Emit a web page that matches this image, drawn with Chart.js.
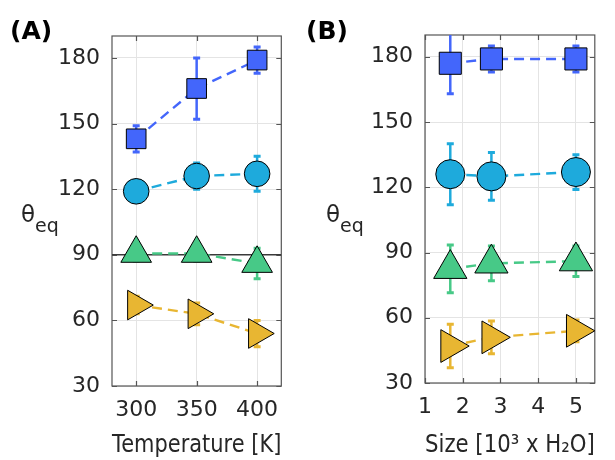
<!DOCTYPE html>
<html>
<head>
<meta charset="utf-8">
<script src="https://cdn.jsdelivr.net/npm/chart.js@4.4.1/dist/chart.umd.min.js"></script>
<style>
    html, body { margin: 0; padding: 0; background: #fff; }
    #wrap { position: relative; width: 615px; height: 460px; overflow: hidden; font-family: "DejaVu Sans", sans-serif; color: #262626; }
    canvas { position: absolute; top: 0; }
    #chartA { left: 0; }
    #chartB { left: 305px; }
    .panel { position: absolute; font-weight: bold; font-size: 25px; line-height: 1; color: #000; }
    .ylab { position: absolute; font-size: 23px; line-height: 1; }
    .ylab span { position: relative; top: 10px; font-size: 19px; }
</style>
</head>
<body>
<div id="wrap">
    <canvas id="chartA" width="300" height="460"></canvas>
    <canvas id="chartB" width="310" height="460"></canvas>
    <div class="panel" style="left:10px; top:18px;">(A)</div>
    <div class="panel" style="left:306px; top:18px;">(B)</div>
    <div class="ylab" style="left:21px; top:203px;">θ<span>eq</span></div>
    <div class="ylab" style="left:326px; top:203px;">θ<span>eq</span></div>
</div>
<script>
// ---- pannello A: temperatura ----
const TEMP_K = [300, 350, 400];
const A_SQUARE = [143, 166, 179];
const A_SQUARE_ERR = [6, 14, 6];
const A_CIRCLE = [119, 126, 127];
const A_CIRCLE_ERR = [5, 6, 8];
const A_TRI_UP = [90.6, 90.6, 86];
const A_TRI_UP_ERR = [3.5, 3.5, 7];
const A_TRI_RIGHT = [67, 63, 54];
const A_TRI_RIGHT_ERR = [4, 5, 6];
const A_REF_LINE = 90;
const A_X_TICKS = [300, 350, 400];

// ---- pannello B: dimensione ----
const SIZE_KH2O = [1.67, 2.76, 5.0];
const B_SQUARE = [177, 179, 179];
const B_SQUARE_ERR = [14, 6, 6];
const B_CIRCLE = [126, 125, 127];
const B_CIRCLE_ERR = [14, 11, 8];
const B_TRI_UP = [82.5, 85, 86];
const B_TRI_UP_ERR = [11, 8, 7];
const B_TRI_RIGHT = [47, 51, 54];
const B_TRI_RIGHT_ERR = [10, 7.5, 5];
const B_X_TICKS = [1, 2, 3, 4, 5];

const Y_TICKS = [30, 60, 90, 120, 150, 180];

const BLUE = '#4366fb';
const CYAN = '#1eaadc';
const GREEN = '#47c987';
const YELLOW = '#e8b632';
const TXT = '#262626';
const GRID = '#e4e4e4';
const FONT = "'DejaVu Sans', sans-serif";

Chart.defaults.font.family = FONT;
Chart.defaults.color = TXT;

// box con tacche verso l'interno (stile MATLAB)
const boxTicks = {
    id: 'boxTicks',
    beforeDatasetsDraw(chart) {
        const { ctx, chartArea: a, scales: { x, y } } = chart;
        const len = 5;
        ctx.save();
        ctx.strokeStyle = '#555';
        ctx.lineWidth = 1.2;
        ctx.strokeRect(a.left, a.top, a.right - a.left, a.bottom - a.top);
        ctx.beginPath();
        x.ticks.forEach(t => {
            const px = Math.round(x.getPixelForValue(t.value)) + 0.5;
            ctx.moveTo(px, a.bottom); ctx.lineTo(px, a.bottom - len);
            ctx.moveTo(px, a.top); ctx.lineTo(px, a.top + len);
        });
        y.ticks.forEach(t => {
            const py = Math.round(y.getPixelForValue(t.value)) + 0.5;
            ctx.moveTo(a.left, py); ctx.lineTo(a.left + len, py);
            ctx.moveTo(a.right, py); ctx.lineTo(a.right - len, py);
        });
        ctx.stroke();
        ctx.restore();
    },
};

// barre d'errore verticali con cappucci
const errorBars = {
    id: 'errorBars',
    beforeDatasetsDraw(chart) {
        const { ctx, chartArea: a, scales: { x, y } } = chart;
        ctx.save();
        ctx.beginPath();
        ctx.rect(a.left, a.top, a.right - a.left, a.bottom - a.top);
        ctx.clip();
        chart.data.datasets.forEach(ds => {
            if (!ds.errors) return;
            ctx.strokeStyle = ds.borderColor;
            ds.data.forEach((p, i) => {
                const px = x.getPixelForValue(p.x);
                const top = y.getPixelForValue(p.y + ds.errors[i]);
                const bot = y.getPixelForValue(p.y - ds.errors[i]);
                ctx.lineWidth = 2.5;
                ctx.beginPath();
                ctx.moveTo(px, top); ctx.lineTo(px, bot);
                ctx.stroke();
                ctx.lineWidth = 3;
                ctx.beginPath();
                ctx.moveTo(px - 3.5, top); ctx.lineTo(px + 3.5, top);
                ctx.moveTo(px - 3.5, bot); ctx.lineTo(px + 3.5, bot);
                ctx.stroke();
            });
        });
        ctx.restore();
    },
};

function series(xs, ys, errs, color, style, radius, rotation) {
    return {
        data: xs.map((x, i) => ({ x, y: ys[i] })),
        errors: errs,
        showLine: true,
        borderColor: color,
        backgroundColor: color,
        borderWidth: 2.4,
        borderDash: [10, 6],
        pointStyle: style,
        pointRadius: radius,
        pointHoverRadius: radius,
        pointRotation: rotation || 0,
        pointBackgroundColor: color,
        pointBorderColor: '#000',
        pointBorderWidth: 1,
        clip: false,
    };
}

function makePanel(canvasId, opt) {
    const ctx = document.getElementById(canvasId);
    return new Chart(ctx, {
        type: 'scatter',
        data: { datasets: opt.datasets },
        options: {
            responsive: false,
            animation: false,
            events: [],
            layout: { padding: opt.padding },
            plugins: { legend: { display: false }, tooltip: { enabled: false } },
            scales: {
                x: {
                    type: 'linear',
                    min: opt.xMin,
                    max: opt.xMax,
                    afterBuildTicks: s => { s.ticks = opt.xTicks.map(v => ({ value: v })); },
                    afterFit: s => { s.height = opt.xH; },
                    grid: { color: GRID, drawTicks: false },
                    border: { display: false },
                    ticks: { padding: 11, autoSkip: false, maxRotation: 0, color: TXT, font: { family: FONT, size: 22 } },
                    title: { display: true, text: opt.xTitle, color: TXT, font: { family: FONT, size: 25 }, padding: 0 },
                },
                y: {
                    type: 'linear',
                    min: 30,
                    max: 190,
                    afterBuildTicks: s => { s.ticks = Y_TICKS.map(v => ({ value: v })); },
                    afterFit: s => { s.width = opt.yW; },
                    grid: { color: GRID, drawTicks: false },
                    border: { display: false },
                    ticks: { padding: 12, color: TXT, font: { family: FONT, size: 22 } },
                },
            },
        },
        plugins: [boxTicks, errorBars],
    });
}

const refLine = {
    data: [{ x: 280, y: A_REF_LINE }, { x: 420, y: A_REF_LINE }],
    showLine: true,
    borderColor: '#3a3a3a',
    borderWidth: 1.6,
    pointRadius: 0,
    order: 10,
};

makePanel('chartA', {
    xMin: 280, xMax: 420, xTicks: A_X_TICKS,
    xTitle: 'Temperature [K]',
    yW: 112, xH: 74,
    padding: { left: 0, right: 14, top: 36, bottom: 0 },
    datasets: [
        series(TEMP_K, A_SQUARE, A_SQUARE_ERR, BLUE, 'rect', 13.9),
        series(TEMP_K, A_CIRCLE, A_CIRCLE_ERR, CYAN, 'circle', 12.8),
        series(TEMP_K, A_TRI_UP, A_TRI_UP_ERR, GREEN, 'triangle', 17.7),
        series(TEMP_K, A_TRI_RIGHT, A_TRI_RIGHT_ERR, YELLOW, 'triangle', 17.1, 90),
        refLine,
    ],
});

makePanel('chartB', {
    xMin: 1, xMax: 5.5, xTicks: B_X_TICKS,
    xTitle: 'Size [10³ x H₂O]',
    yW: 120, xH: 77,
    padding: { left: 0, right: 16, top: 35, bottom: 0 },
    datasets: [
        series(SIZE_KH2O, B_SQUARE, B_SQUARE_ERR, BLUE, 'rect', 15.6),
        series(SIZE_KH2O, B_CIRCLE, B_CIRCLE_ERR, CYAN, 'circle', 14.5),
        series(SIZE_KH2O, B_TRI_UP, B_TRI_UP_ERR, GREEN, 'triangle', 19.2),
        series(SIZE_KH2O, B_TRI_RIGHT, B_TRI_RIGHT_ERR, YELLOW, 'triangle', 18.9, 90),
    ],
});
</script>
</body>
</html>
